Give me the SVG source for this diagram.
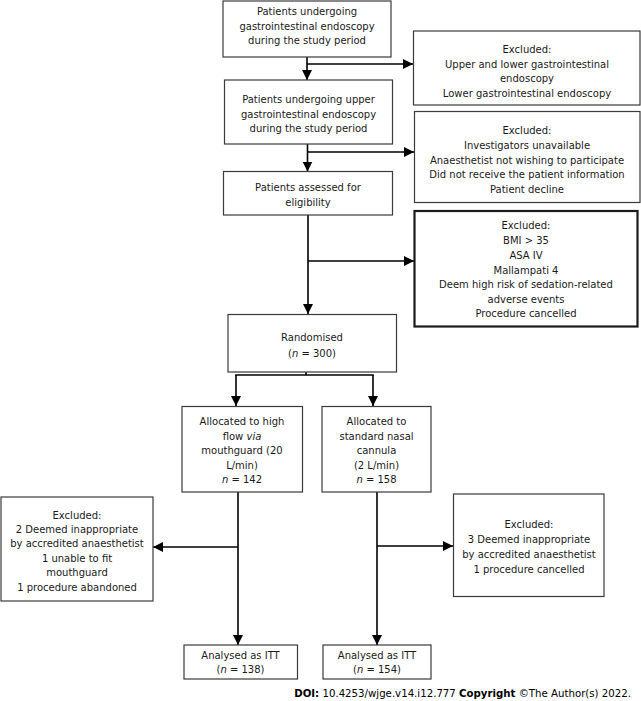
<svg xmlns="http://www.w3.org/2000/svg" width="641" height="701" viewBox="0 0 641 701">
<style>
.box{fill:#fff;stroke:#3a3a3a;stroke-width:1.2}
.thick{fill:#fff;stroke:#1a1a1a;stroke-width:2.2}
text{font-family:"DejaVu Sans","Liberation Sans",sans-serif;font-size:10px;fill:#1a1a1a;text-anchor:middle}
.c line{stroke:#000;stroke-width:1.6}
.i{font-style:italic}
.b{font-weight:bold}
</style>
<defs>
<marker id="ah" markerUnits="userSpaceOnUse" markerWidth="12" markerHeight="12" refX="10" refY="5" orient="auto">
<path d="M0,0 L10,5 L0,10 Z" fill="#000"/>
</marker>
</defs>
<rect width="641" height="701" fill="#fff"/>
<g class="c" id="connectors">
<line x1="307" y1="57" x2="307" y2="80" marker-end="url(#ah)"/>
<line x1="307" y1="64" x2="413" y2="64" marker-end="url(#ah)"/>
<line x1="307.5" y1="144" x2="307.5" y2="171.5" marker-end="url(#ah)"/>
<line x1="307.5" y1="152" x2="414" y2="152" marker-end="url(#ah)"/>
<line x1="308" y1="215" x2="308" y2="314" marker-end="url(#ah)"/>
<line x1="308" y1="261" x2="414" y2="261" marker-end="url(#ah)"/>
<line x1="306" y1="372" x2="306" y2="375"/>
<line x1="235.2" y1="375" x2="373.8" y2="375"/>
<line x1="236" y1="375" x2="236" y2="406" marker-end="url(#ah)"/>
<line x1="373" y1="375" x2="373" y2="406" marker-end="url(#ah)"/>
<line x1="238" y1="492" x2="238" y2="645" marker-end="url(#ah)"/>
<line x1="238" y1="547" x2="153" y2="547" marker-end="url(#ah)"/>
<line x1="377" y1="492" x2="377" y2="645" marker-end="url(#ah)"/>
<line x1="377" y1="546" x2="453" y2="546" marker-end="url(#ah)"/>
</g>
<g id="n1"><rect class="box" x="223" y="1" width="168" height="56"/>
<text x="307" y="15">Patients undergoing</text><text x="307" y="29.5">gastrointestinal endoscopy</text><text x="307" y="44">during the study period</text></g>
<g id="x1"><rect class="box" x="413.5" y="31" width="226.5" height="74"/>
<text x="527" y="53">Excluded:</text><text x="527" y="68">Upper and lower gastrointestinal</text><text x="527" y="82">endoscopy</text><text x="527" y="97">Lower gastrointestinal endoscopy</text></g>
<g id="n2"><rect class="box" x="224.5" y="80" width="168" height="64"/>
<text x="308.5" y="103">Patients undergoing upper</text><text x="308.5" y="117.5">gastrointestinal endoscopy</text><text x="308.5" y="132">during the study period</text></g>
<g id="x2"><rect class="box" x="414.5" y="111.5" width="225.5" height="91"/>
<text x="527" y="134">Excluded:</text><text x="527" y="149">Investigators unavailable</text><text x="527" y="164">Anaesthetist not wishing to participate</text><text x="527" y="178">Did not receive the patient information</text><text x="527" y="192.5">Patient decline</text></g>
<g id="n3"><rect class="box" x="223.5" y="171.5" width="169" height="43.5"/>
<text x="308" y="191">Patients assessed for</text><text x="308" y="206">eligibility</text></g>
<g id="x3"><rect class="thick" x="414.5" y="211" width="223" height="115.5"/>
<text x="526" y="229">Excluded:</text><text x="526" y="244">BMI &gt; 35</text><text x="526" y="258.5">ASA IV</text><text x="526" y="273.5">Mallampati 4</text><text x="526" y="288">Deem high risk of sedation-related</text><text x="526" y="302.5">adverse events</text><text x="526" y="317">Procedure cancelled</text></g>
<g id="n4"><rect class="box" x="228" y="314.5" width="168.5" height="57.5"/>
<text x="312" y="340.5">Randomised</text><text x="312" y="357">(<tspan class="i">n</tspan> = 300)</text></g>
<g id="n5"><rect class="box" x="182" y="406.5" width="120.5" height="85.5"/>
<text x="242" y="425">Allocated to high</text><text x="242" y="439.5">flow <tspan class="i">via</tspan></text><text x="242" y="454">mouthguard (20</text><text x="242" y="468.5">L/min)</text><text x="242" y="483"><tspan class="i">n</tspan> = 142</text></g>
<g id="n6"><rect class="box" x="322" y="406.5" width="109" height="85.5"/>
<text x="376.5" y="425">Allocated to</text><text x="376.5" y="439.5">standard nasal</text><text x="376.5" y="454">cannula</text><text x="376.5" y="468.5">(2 L/min)</text><text x="376.5" y="483"><tspan class="i">n</tspan> = 158</text></g>
<g id="x4"><rect class="box" x="1" y="497" width="152" height="104"/>
<text x="77" y="519">Excluded:</text><text x="77" y="533">2 Deemed inappropriate</text><text x="77" y="547">by accredited anaesthetist</text><text x="77" y="561.5">1 unable to fit</text><text x="77" y="576">mouthguard</text><text x="77" y="590.5">1 procedure abandoned</text></g>
<g id="x5"><rect class="box" x="453.5" y="494" width="150.5" height="102.5"/>
<text x="529" y="528">Excluded:</text><text x="529" y="543">3 Deemed inappropriate</text><text x="529" y="557.5">by accredited anaesthetist</text><text x="529" y="572.5">1 procedure cancelled</text></g>
<g id="n7"><rect class="box" x="184" y="645" width="113.5" height="34"/>
<text x="240.5" y="659">Analysed as ITT</text><text x="240.5" y="673">(<tspan class="i">n</tspan> = 138)</text></g>
<g id="n8"><rect class="box" x="323" y="645" width="108" height="34"/>
<text x="377" y="659">Analysed as ITT</text><text x="377" y="673">(<tspan class="i">n</tspan> = 154)</text></g>
<text x="631" y="697" style="text-anchor:end;font-size:10.2px;fill:#000"><tspan class="b">DOI:</tspan> 10.4253/wjge.v14.i12.777 <tspan class="b">Copyright</tspan> ©The Author(s) 2022.</text>
</svg>
